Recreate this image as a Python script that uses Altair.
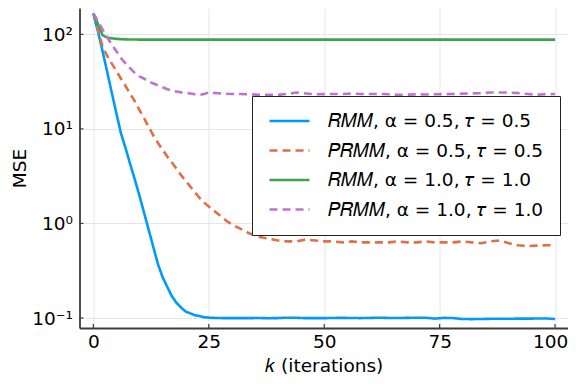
import altair as alt
import pandas as pd

# iteration index
k = list(range(0, 31)) + list(range(32, 101, 2))

rmm_05 = [166, 107, 66, 40, 24, 14.5, 8.9, 6.2, 4.2, 2.9, 1.95, 1.29, 0.85, 0.56, 0.37, 0.27,
          0.214, 0.17, 0.145, 0.129, 0.117, 0.112, 0.107, 0.105, 0.102, 0.101, 0.1003, 0.1,
          0.0998, 0.0997, 0.0998,
          0.0996, 0.0998, 0.0999, 0.0995, 0.0998, 0.1008, 0.1005, 0.0996, 0.0997, 0.0997,
          0.1001, 0.1004, 0.0999, 0.0998, 0.1002, 0.1007, 0.1001, 0.1, 0.1003, 0.1008,
          0.1007, 0.0985, 0.1003, 0.0998, 0.0975, 0.0974, 0.0976, 0.0981, 0.0983, 0.0982,
          0.0985, 0.0985, 0.0987, 0.099, 0.0975]

prmm_05 = [166, 112, 74, 59, 49, 40.7, 33.9, 28.2, 23.4, 19.5, 15.8, 12.9, 10.5, 8.5, 7.1, 6.0,
           5.1, 4.4, 3.8, 3.24, 2.82, 2.45, 2.14, 1.86, 1.66, 1.51, 1.38, 1.26, 1.15, 1.05, 0.977,
           0.87, 0.776, 0.72, 0.69, 0.66, 0.646, 0.646, 0.676, 0.66, 0.646, 0.646, 0.63, 0.646,
           0.63, 0.63, 0.63, 0.63, 0.646, 0.63, 0.63, 0.646, 0.63, 0.63, 0.63, 0.646, 0.63,
           0.617, 0.646, 0.66, 0.617, 0.589, 0.575, 0.582, 0.589, 0.589]

rmm_10 = [166, 129, 97.7, 92.3, 90.6, 89.5, 88.7, 88.3, 88.1, 88.0, 87.9, 87.9, 87.8, 87.8, 87.8,
          87.8, 87.8, 87.8, 87.8, 87.8, 87.8, 87.8, 87.8, 87.8, 87.8, 87.8, 87.8, 87.8, 87.8,
          87.8, 87.8,
          87.8, 87.8, 87.8, 87.8, 87.8, 87.8, 87.8, 87.8, 87.8, 87.8, 87.8, 87.8, 87.8, 87.8,
          87.8, 87.8, 87.8, 87.8, 87.8, 87.8, 87.8, 87.8, 87.8, 87.8, 87.8, 87.8, 87.8, 87.8,
          87.8, 87.8, 87.8, 87.8, 87.8, 87.8, 87.8]

prmm_10 = [166, 138, 112, 93, 77.6, 66, 56, 49, 43.6, 38.9, 35.9, 33.9, 31.6, 30.2, 28.8, 27.5,
           26.3, 25.4, 24.8, 24.3, 24.0, 23.7, 23.2, 22.9, 23.4, 24.3, 24.0, 23.8, 23.7, 23.5, 23.4,
           23.4, 23.2, 22.9, 22.9, 22.9, 23.4, 24.2, 23.7, 23.2, 23.3, 23.4, 23.4, 23.6, 23.4,
           23.4, 23.4, 23.2, 22.9, 23.0, 23.2, 23.1, 23.2, 23.3, 23.4, 23.6, 23.7, 23.8, 24.2,
           24.2, 24.2, 23.9, 23.4, 23.0, 23.2, 23.4]

series_names = ["𝑅𝑀𝑀, α = 0.5, 𝜏 = 0.5", "𝑃𝑅𝑀𝑀, α = 0.5, 𝜏 = 0.5",
                "𝑅𝑀𝑀, α = 1.0, 𝜏 = 1.0", "𝑃𝑅𝑀𝑀, α = 1.0, 𝜏 = 1.0"]
series_colors = ["#009AFA", "#E26F46", "#3DA44D", "#C271D2"]
series_dashes = [[1, 0], [8, 5], [1, 0], [8, 5]]

x_ticks = [0, 25, 50, 75, 100]
y_ticks = [0.1, 1, 10, 100]
y_tick_labels = ["10⁻¹", "10⁰", "10¹", "10²"]

rows = []
for name, vals in zip(series_names, [rmm_05, prmm_05, rmm_10, prmm_10]):
    for kk, v in zip(k, vals):
        rows.append({"k": kk, "mse": v, "series": name})
df = pd.DataFrame(rows)

FONT = "DejaVu Sans"
FS = 18.5

xscale = alt.Scale(domain=[-3, 102.8], nice=False, zero=False)
yscale = alt.Scale(type="log", domain=[0.0784, 189.7], nice=False, zero=False)

label_expr = " : ".join(
    f"datum.value < {v * 1.5} ? '{lab}'" for v, lab in zip(y_ticks[:-1], y_tick_labels[:-1])
) + f" : '{y_tick_labels[-1]}'"

legend = alt.Legend(
    title=None, orient="none", legendX=172.5, legendY=88,
    symbolType="stroke", symbolSize=1600, symbolStrokeWidth=2.5,
    clipHeight=18, rowPadding=10.5, padding=16, labelOffset=17,
    labelFont=FONT, labelFontSize=FS, labelColor="black", labelLimit=600,
    strokeColor="#222222", fillColor="white", cornerRadius=0,
)

lines = alt.Chart(df).mark_line(strokeWidth=2.6, clip=True).encode(
    x=alt.X("k:Q", scale=xscale, title="𝑘 (iterations)",
            axis=alt.Axis(values=x_ticks, labelPadding=4, titlePadding=6,
                          labelOffset={"condition": {"test": "datum.value >= 100", "value": -5},
                                       "value": 0})),
    y=alt.Y("mse:Q", scale=yscale, title="MSE",
            axis=alt.Axis(values=y_ticks, labelExpr=label_expr, labelPadding=7,
                          titleX=-60.5, titleY=160, titleBaseline="middle", titleAngle=270)),
    color=alt.Color("series:N", scale=alt.Scale(domain=series_names, range=series_colors),
                    legend=legend),
    strokeDash=alt.StrokeDash("series:N", scale=alt.Scale(domain=series_names, range=series_dashes),
                              legend=legend),
    order=alt.Order("k:Q"),
)

xt = alt.Chart(pd.DataFrame({"k": x_ticks})).mark_rule(color="#3c3c3c", strokeWidth=1.2).encode(
    x=alt.X("k:Q", scale=xscale), y=alt.value(320), y2=alt.value(316))
yt = alt.Chart(pd.DataFrame({"mse": y_ticks})).mark_rule(color="#3c3c3c", strokeWidth=1.2).encode(
    y=alt.Y("mse:Q", scale=yscale), x=alt.value(0), x2=alt.value(4))

chart = alt.layer(lines, xt, yt).properties(
    width=488.5, height=320,
    autosize=alt.AutoSizeParams(type="none"),
    padding={"left": 71.5, "top": 0, "right": 0, "bottom": 48},
).configure(font=FONT).configure_view(stroke=None).configure_axis(
    labelFont=FONT, labelFontSize=FS, labelColor="black",
    titleFont=FONT, titleFontSize=FS, titleFontWeight="normal", titleColor="black",
    ticks=False, tickSize=0, domainColor="#3c3c3c", domainWidth=1.8,
    gridColor="#e6e6e6", gridWidth=1,
)

chart.save("out.html", embed_options={"renderer": "svg", "actions": False})
